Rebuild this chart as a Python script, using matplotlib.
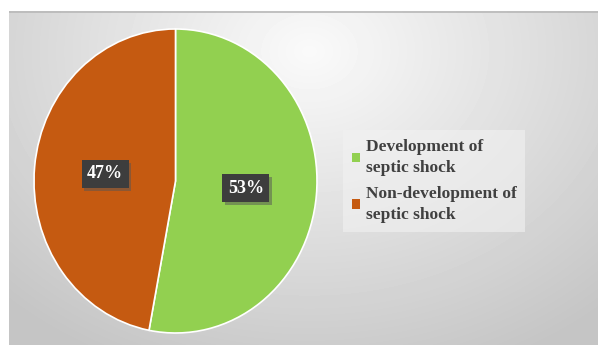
import matplotlib.pyplot as plt
import matplotlib.patheffects as pe
import numpy as np

labels = ["Development of\nseptic shock", "Non-development of\nseptic shock"]
values = [53, 47]
colors = ["#92D050", "#C55A11"]

fig = plt.figure(figsize=(5.98, 3.45), dpi=100)
fig.patch.set_facecolor("white")

# gray radial-gradient panel behind the chart
bg = fig.add_axes([9 / 598, 0, 589 / 598, 334 / 345])
yy, xx = np.mgrid[0:334, 0:589]
dist = np.sqrt(((xx - 300) / 420.0) ** 2 + ((yy - 40) / 330.0) ** 2)
shade = np.clip(0.98 - 0.2 * dist, 0.77, 0.98)
bg.imshow(shade, cmap="gray", vmin=0, vmax=1, aspect="auto", interpolation="bilinear")
bg.axhline(0, color="#b8b8b8", lw=1.2)
bg.axis("off")

ax = fig.add_axes([34 / 598, 12 / 345, 283 / 598, 304 / 345])
wedges, texts, autotexts = ax.pie(
    values,
    colors=colors,
    startangle=90,
    counterclock=False,
    autopct=lambda p: f"{round(p)}%",
    pctdistance=0.5,
    wedgeprops=dict(edgecolor="white", linewidth=1.2),
    textprops=dict(color="white", fontsize=13, fontweight="bold", family="Liberation Serif"),
)
ax.set_aspect("auto")
ax.set_xlim(-1, 1)
ax.set_ylim(-1, 1)
for t in autotexts:
    t.set_bbox(dict(boxstyle="square,pad=0.3", facecolor="#3d3d3d", edgecolor="none"))
    t.get_bbox_patch().set_path_effects(
        [pe.SimplePatchShadow(offset=(2, -2), shadow_rgbFace="#555555", alpha=0.5), pe.Normal()]
    )

leg = fig.legend(
    wedges,
    labels,
    loc="center left",
    bbox_to_anchor=(343 / 598, 0.475),
    borderaxespad=0,
    frameon=True,
    fancybox=False,
    handlelength=0.5,
    handleheight=0.5,
    handletextpad=0.3,
    labelspacing=0.55,
    borderpad=0.5,
    prop=dict(family="Liberation Serif", weight="bold", size=12.5),
    labelcolor="#404040",
)
leg.get_frame().set_facecolor("#f2f2f2")
leg.get_frame().set_alpha(0.6)
leg.get_frame().set_edgecolor("none")
for h in leg.legend_handles:
    h.set_edgecolor("none")
for t in leg.get_texts():
    t.set_linespacing(1.45)

plt.savefig("out.png", dpi=100)
